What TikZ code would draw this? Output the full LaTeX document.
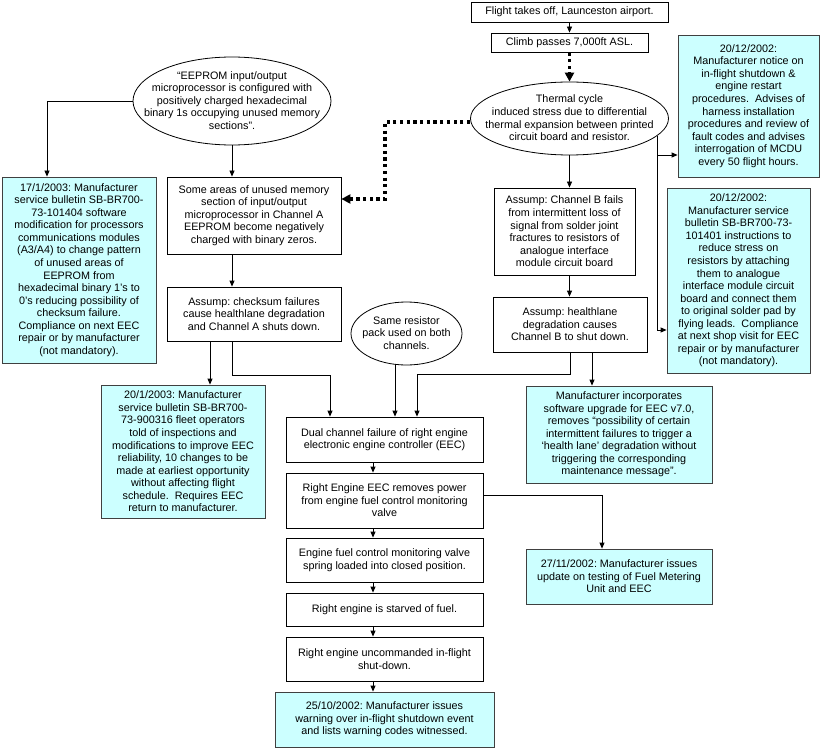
\documentclass[tikz,border=0pt]{standalone}
\usepackage{fontspec}
\setmainfont{Liberation Sans}
\usetikzlibrary{shapes.geometric,arrows.meta}
\definecolor{notecyan}{HTML}{CCFFFF}
\newcommand{\ovaltext}[1]{\makebox[0pt]{\smash{\raisebox{-3.5pt}{\begin{tabular}{@{}c@{}}#1\end{tabular}}}}}

\begin{document}
\begin{tikzpicture}[
  x=1pt, y=-1pt,
  box/.style={rectangle, draw, line width=0.8pt, inner sep=1pt, align=center, font=\fontsize{10.8}{12.55}\selectfont\frenchspacing},
  note/.style={box, draw=black!75, fill=notecyan},
  oval/.style={ellipse, draw, line width=0.8pt, inner sep=0pt, font=\fontsize{10.8}{12.55}\selectfont\frenchspacing},
  arrow/.style={-{Triangle[length=6pt,width=5pt]}, line width=0.8pt},
  dotarrow/.style={-{Triangle[length=9pt,width=9pt]}, line width=3.2pt, dash pattern=on 3.2pt off 3.5pt}
]
  \useasboundingbox (0,0) rectangle (820,749);

  % Flight (top)
  \node[box, minimum width=197pt, minimum height=20pt] (flight) at (569.5,12) {Flight takes off, Launceston airport.};
  \node[box, minimum width=157pt, minimum height=19pt] (climb) at (569.5,42.5) {Climb passes 7,000ft ASL.};
  \node[oval, minimum width=198pt, minimum height=73pt] (thermal) at (569.5,118.5) {\ovaltext{Thermal cycle\\induced stress due to differential\\thermal expansion between printed\\circuit board and resistor.}};

  % Channel A (left)
  \node[oval, minimum width=198pt, minimum height=88pt] (eeprom) at (232,101) {\ovaltext{“EEPROM input/output\\microprocessor is configured with\\positively charged hexadecimal\\binary 1s occupying unused memory\\sections”.}};
  \node[box, minimum width=174pt, minimum height=77pt] (memory) at (254,215.5) {Some areas of unused memory\\section of input/output\\microprocessor in Channel A\\EEPROM become negatively\\charged with binary zeros.};
  \node[box, minimum width=174pt, minimum height=54pt] (checksum) at (254,314) {Assump: checksum failures\\cause healthlane degradation\\and Channel A shuts down.};
  \node[note, minimum width=154pt, minimum height=186pt] (sb17) at (79,270) {17/1/2003: Manufacturer\\service bulletin SB-BR700-\\73-101404 software\\modification for processors\\communications modules\\(A3/A4) to change pattern\\of unused areas of\\EEPROM from\\hexadecimal binary 1’s to\\0’s reducing possibility of\\checksum failure.\\Compliance on next EEC\\repair or by manufacturer\\(not mandatory).};
  \node[note, minimum width=164pt, minimum height=133pt] (sb20) at (183,451.5) {20/1/2003: Manufacturer\\service bulletin SB-BR700-\\73-900316 fleet operators\\told of inspections and\\modifications to improve EEC\\reliability, 10 changes to be\\made at earliest opportunity\\without affecting flight\\schedule.~ Requires EEC\\return to manufacturer.};

  % Channel B (right)
  \node[box, minimum width=141pt, minimum height=87pt] (chanB) at (564.5,231.5) {Assump: Channel B fails\\from intermittent loss of\\signal from solder joint\\fractures to resistors of\\analogue interface\\module circuit board};
  \node[box, minimum width=154pt, minimum height=55pt] (healthB) at (570,324.5) {Assump: healthlane\\degradation causes\\Channel B to shut down.};
  \node[note, minimum width=186pt, minimum height=97pt] (upgrade) at (619,434.5) {Manufacturer incorporates\\software upgrade for EEC v7.0,\\removes “possibility of certain\\intermittent failures to trigger a\\‘health lane’ degradation without\\triggering the corresponding\\maintenance message”.};
  \node[note, minimum width=141pt, minimum height=142pt] (notice) at (748.5,106) {20/12/2002:\\Manufacturer notice on\\in-flight shutdown \&\\engine restart\\procedures.~ Advises of\\harness installation\\procedures and review of\\fault codes and advises\\interrogation of MCDU\\every 50 flight hours.};
  \node[note, minimum width=143pt, minimum height=185pt] (sb1401) at (738.5,280.5) {20/12/2002:\\Manufacturer service\\bulletin SB-BR700-73-\\101401 instructions to\\reduce stress on\\resistors by attaching\\them to analogue\\interface module circuit\\board and connect them\\to original solder pad by\\flying leads.~ Compliance\\at next shop visit for EEC\\repair or by manufacturer\\(not mandatory).};

  % Engine chain (middle)
  \node[oval, minimum width=111pt, minimum height=63pt] (resistor) at (406.5,333.5) {\ovaltext{Same resistor\\pack used on both\\channels.}};
  \node[box, minimum width=197pt, minimum height=45pt] (dual) at (384.5,439.5) {Dual channel failure of right engine\\electronic engine controller (EEC)};
  \node[box, minimum width=197pt, minimum height=55pt] (removes) at (384.5,500.5) {Right Engine EEC removes power\\from engine fuel control monitoring\\valve};
  \node[box, minimum width=197pt, minimum height=44pt] (spring) at (384.5,560) {Engine fuel control monitoring valve\\spring loaded into closed position.};
  \node[box, minimum width=197pt, minimum height=33pt] (starved) at (384.5,609.5) {Right engine is starved of fuel.};
  \node[box, minimum width=197pt, minimum height=44pt] (shutdown) at (384.5,659) {Right engine uncommanded in-flight\\shut-down.};
  \node[note, minimum width=219pt, minimum height=55pt] (warning) at (384.5,719.5) {25/10/2002: Manufacturer issues\\warning over in-flight shutdown event\\and lists warning codes witnessed.};
  \node[note, minimum width=186pt, minimum height=55pt] (fmu) at (619,576.5) {27/11/2002: Manufacturer issues\\update on testing of Fuel Metering\\Unit and EEC};

  % Taps
  \coordinate (dotbend) at (385,122);
  \coordinate (joinA) at (330,375);
  \coordinate (joinB) at (417,374);
  \coordinate (cktap) at ([xshift=-44pt]checksum.south);
  \coordinate (hbtap) at ([xshift=22pt]healthB.south);
  \coordinate (restap) at ([xshift=-11.5pt]resistor.south);
  \coordinate (noticein) at ([yshift=-49pt]notice.west);

  % Arrows
  \draw[arrow] (flight.south) -- (climb.north);
  \draw[dotarrow] (climb.south) -- (thermal.north);
  \draw[dotarrow] ([yshift=-3.5pt]thermal.west) -- (dotbend) |- ([yshift=16.5pt]memory.east);
  \draw[arrow] (eeprom.west) -| ([xshift=-32pt]sb17.north);
  \draw[arrow] (eeprom.south) -- (eeprom.south |- memory.north);
  \draw[arrow] (memory.south -| eeprom.south) -- (checksum.north -| eeprom.south);
  \draw[arrow] (cktap) -- (cktap |- sb20.north);
  \draw[arrow] (checksum.south -| eeprom.south) |- (joinA) -- (joinA |- dual.north);
  \draw[arrow] (restap) -- (restap |- dual.north);
  \draw[arrow] (thermal.south) -- (thermal.south |- chanB.north);
  \draw[arrow] (chanB.south -| thermal.south) -- (healthB.north -| thermal.south);
  \draw[arrow] (healthB.south) |- (joinB) -- (joinB |- dual.north);
  \draw[arrow] (hbtap) -- (hbtap |- upgrade.north);
  \draw[arrow] (thermal.-11) |- ([yshift=-49.5pt]sb1401.west);
  \draw[arrow] (noticein -| thermal.-11) -- (noticein);
  \foreach \a/\b in {dual/removes, removes/spring, spring/starved, starved/shutdown, shutdown/warning}
    \draw[arrow] ([xshift=-11.5pt]\a.south) -- ([xshift=-11.5pt]\b.north);
  \draw[arrow] ([yshift=5.5pt]removes.east) -| ([xshift=-17pt]fmu.north);

\end{tikzpicture}
\end{document}
